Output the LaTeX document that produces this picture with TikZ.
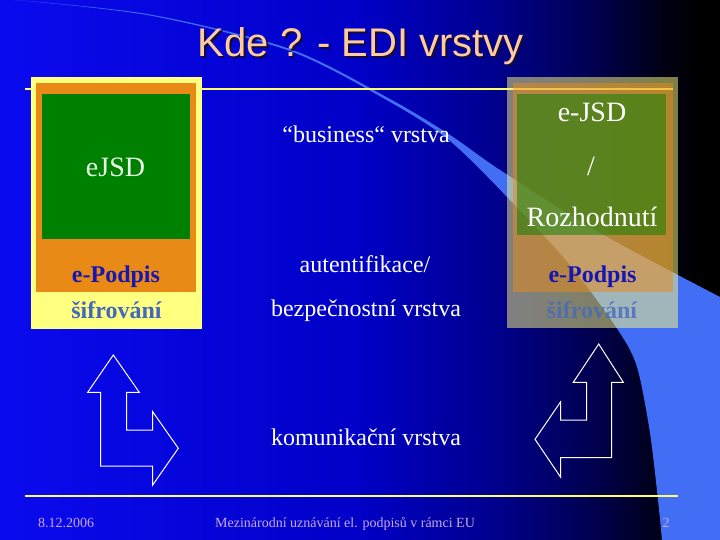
\documentclass[tikz,border=0pt]{standalone}
\usepackage{fontspec}
\setmainfont{Liberation Serif}
\newfontfamily\titlefont{Liberation Sans}
\definecolor{peach}{RGB}{255,204,153}
\definecolor{titleshadow}{RGB}{20,10,60}
\definecolor{paleyel}{RGB}{255,255,128}
\definecolor{boxorange}{RGB}{234,138,22}
\definecolor{boxgreen}{RGB}{0,128,0}
\definecolor{podpisblue}{RGB}{22,22,180}
\definecolor{sifrblue}{RGB}{66,104,192}
\definecolor{swooshblue}{RGB}{66,110,245}
\definecolor{lineyel}{RGB}{255,255,110}
\definecolor{footc}{RGB}{200,170,228}
\definecolor{greentext}{RGB}{232,255,232}
\pgfdeclarehorizontalshading{bgshade}{100bp}{rgb(0bp)=(0.04,0.04,0.94); rgb(25bp)=(0.04,0.04,0.94); rgb(50bp)=(0,0,0.78); rgb(59.5bp)=(0,0,0.55); rgb(66.5bp)=(0,0,0.3); rgb(71bp)=(0,0,0.08); rgb(73.5bp)=(0,0,0); rgb(100bp)=(0,0,0)}
\newcommand{\kdetitle}{Kde ? - EDI vrstvy}
\begin{document}
\begin{tikzpicture}[x=1pt,y=-1pt,
  rect/.style={inner sep=0pt,outer sep=0pt,draw=none},
  serif24/.style={anchor=base,inner sep=0pt,font=\fontsize{24}{28}\selectfont,text=white},
  boxtxt/.style={anchor=base,inner sep=0pt,font=\fontsize{28}{32}\selectfont,text=greentext},
  boldtxt/.style={anchor=base,inner sep=0pt,font=\fontsize{24}{28}\selectfont\bfseries},
  foot/.style={anchor=base,inner sep=0pt,font=\fontsize{14}{16}\selectfont,text=footc},
  layerline/.style={draw=lineyel,line width=2pt},
  turnarrow/.style={draw=white,line width=1pt,line join=miter}]
\useasboundingbox (0,0) rectangle (720,540);
% background
\shade[shading=bgshade] (0,0) rectangle (720,540);
% swoosh
\fill[swooshblue] plot[smooth,tension=0.5] coordinates {(15,0) (150,14.5) (290,49) (390,99) (450,135) (500,170) (600,233) (720,297)}
  -- (720,540)
  -- plot[smooth,tension=0.5] coordinates {(662,540) (658,500) (650,433) (637,367) (618,330) (570,265) (510,200) (450,141) (390,102) (290,51) (150,15.5) (15,0)} -- cycle;
% title with shadow in one node
\node[anchor=base,inner sep=0pt,font=\titlefont\fontsize{40}{44}\selectfont,text=peach] (title) at (361,57)
  {\makebox[0pt][l]{\hspace{2pt}\raisebox{-2pt}{\textcolor{titleshadow}{\kdetitle}}}\kdetitle};
% top line
\coordinate (tl1) at (25,89);
\coordinate (tl2) at (673,89);
\draw[layerline] (tl1) -- (tl2);
% left box
\node[rect,fill=paleyel,minimum width=171pt,minimum height=252pt] (lout) at (116.5,203) {};
\node[rect,fill=boxorange,minimum width=160pt,minimum height=209pt] (lorg) at (116,187.5) {};
\node[rect,fill=boxgreen,minimum width=148pt,minimum height=145pt] (lgrn) at (116,166.5) {};
\node[boxtxt] (ljsd) at (115.5,177) {eJSD};
\node[boldtxt,text=podpisblue] (lpod) at (116,282) {e-Podpis};
\node[boldtxt,text=sifrblue] (lsif) at (116.5,318) {šifrování};
% right box
\begin{scope}[fill opacity=0.5]
\node[rect,fill=paleyel,minimum width=171pt,minimum height=251pt] (rout) at (592.5,202.5) {};
\node[rect,fill=boxorange,minimum width=160pt,minimum height=209pt] (rorg) at (593,187.5) {};
\node[rect,fill=boxgreen,minimum width=149pt,minimum height=141pt] (rgrn) at (591.5,164.5) {};
\end{scope}
\node[boxtxt,text=white] (rjsd) at (592,122) {e-JSD};
\node[boxtxt,text=white] (rslash) at (591,176) {/};
\node[boxtxt,text=white] (rroz) at (592,226.5) {Rozhodnutí};
\node[boldtxt,text=podpisblue] (rpod) at (592.5,282) {e-Podpis};
\node[boldtxt,text=sifrblue,text opacity=0.75] (rsif) at (592,318) {šifrování};
% middle texts
\node[serif24] (bus) at (366,143) {“business“ vrstva};
\node[serif24] (aut) at (365,272.5) {autentifikace/};
\node[serif24] (bez) at (366,316) {bezpečnostní vrstva};
\node[serif24] (kom) at (366,445) {komunikační vrstva};
% arrows
\draw[turnarrow] (113.3,355) -- (139.3,392.3) -- (126.7,392.3) -- (126.7,430) -- (152.7,430) -- (152.7,411.7) -- (178.3,448.3) -- (152.7,485) -- (152.7,466) -- (100.7,466) -- (100.7,392.3) -- (87.7,392.3) -- cycle;
\draw[turnarrow] (598.7,344) -- (623.3,382.3) -- (611.7,382.3) -- (611.7,457.7) -- (560.7,457.7) -- (560.7,477.3) -- (535,439.3) -- (560.7,401.7) -- (560.7,420) -- (586.7,420) -- (586.7,382.3) -- (573.3,382.3) -- cycle;
% footer
\coordinate (fl1) at (25,496);
\coordinate (fl2) at (678,496);
\draw[layerline] (fl1) -- (fl2);
\node[foot] (date) at (66,527) {8.12.2006};
\node[foot] (ftitle) at (345,527) {Mezinárodní uznávání el. podpisů v rámci EU};
\node[foot] (pnum) at (666,527) {2};
\end{tikzpicture}
\end{document}
